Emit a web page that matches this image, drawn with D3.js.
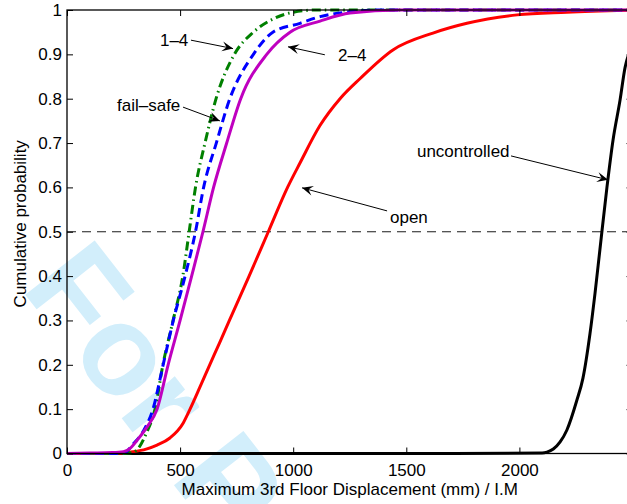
<!DOCTYPE html>
<html>
<head>
<meta charset="utf-8">
<script src="https://cdn.jsdelivr.net/npm/d3@7"></script>
<style>
body { margin: 0; background: #fff; }
svg { display: block; font-family: "Liberation Sans", Arial, Helvetica, sans-serif; }
</style>
</head>
<body>
<div id="chart"></div>
<script>
const width = 627, height = 504
const xTicks = [0, 500, 1000, 1500, 2000]
const yTicks = [0, 0.1, 0.2, 0.3, 0.4, 0.5, 0.6, 0.7, 0.8, 0.9, 1]

// [displacement, cumulative probability]
const uncontrolled = [[0, 0], [1700, 0], [2100, 0.001], [2122, 0.003], [2150, 0.01], [2180, 0.026], [2210, 0.053],
    [2254, 0.12], [2281, 0.17], [2312, 0.27], [2334, 0.36], [2356, 0.46], [2387, 0.6], [2414, 0.707],
    [2445, 0.797], [2467, 0.87], [2490, 0.91]]
const open = [[0, 0], [200, 0], [292, 0.004], [350, 0.01], [398, 0.019], [455, 0.035], [514, 0.069], [544, 0.1],
    [588, 0.15], [631, 0.2], [675, 0.25], [718, 0.3], [805, 0.4], [890, 0.5], [975, 0.6],
    [1030, 0.655], [1119, 0.74], [1207, 0.8], [1295, 0.845], [1441, 0.91], [1618, 0.948], [1768, 0.97],
    [1990, 0.989], [2210, 0.995], [2500, 1]]
const failSafe = [[0, 0], [230, 0], [260, 0.003], [290, 0.02], [337, 0.05], [380, 0.1], [425, 0.2], [470, 0.3],
    [522, 0.4], [568, 0.5], [604, 0.6], [660, 0.7], [720, 0.8], [824, 0.9], [910, 0.95], [1030, 0.97],
    [1119, 0.985], [1250, 0.996], [1400, 1], [2500, 1]]
const oneFour = [[0, 0], [250, 0], [290, 0.002], [320, 0.015], [350, 0.045], [389, 0.1], [424, 0.2], [469, 0.3],
    [512, 0.4], [540, 0.5], [568, 0.6], [610, 0.7], [659, 0.8], [740, 0.9], [824, 0.95], [912, 0.98],
    [1000, 0.995], [1100, 1], [2500, 1]]
const twoFour = [[0, 0], [100, 0.001], [200, 0.002], [250, 0.004], [280, 0.012], [310, 0.03], [354, 0.06],
    [398, 0.1], [447, 0.2], [500, 0.3], [551, 0.4], [601, 0.5], [648, 0.6], [706, 0.7], [768, 0.8],
    [883, 0.9], [986, 0.95], [1119, 0.975], [1251, 0.993], [1472, 1], [2500, 1]]

// label text, label anchor, arrow start, arrow tip (data units)
const notes = [
    { text: '1–4', at: [411, 0.919], from: [548, 0.932], to: [734, 0.913] },
    { text: '2–4', at: [1198, 0.885], from: [1140, 0.899], to: [977, 0.917] },
    { text: 'fail–safe', at: [221, 0.772], from: [513, 0.781], to: [676, 0.75] },
    { text: 'open', at: [1428, 0.52], from: [1415, 0.547], to: [1039, 0.599] },
    { text: 'uncontrolled', at: [1547, 0.669], from: [1963, 0.671], to: [2392, 0.617] }
]

const series = [
    { data: uncontrolled, color: '#000000', dash: null },
    { data: open, color: '#ff0000', dash: null },
    { data: oneFour, color: '#008000', dash: '9,4,1.5,4' },
    { data: failSafe, color: '#0000ff', dash: '9,5' },
    { data: twoFour, color: '#bf00bf', dash: null }
]

const margin = { left: 67, top: 10, right: 632.5, bottom: 453.5 }

const x = d3.scaleLinear().domain([0, 2500]).range([margin.left, margin.right])
const y = d3.scaleLinear().domain([0, 1]).range([margin.bottom, margin.top])

const svg = d3.select('#chart')
    .append('svg')
    .attr('width', width)
    .attr('height', height)

// watermark
svg.append('text')
    .attr('transform', 'translate(20,288) rotate(52)')
    .attr('font-size', 128)
    .attr('font-weight', 'bold')
    .attr('fill', '#d2eefb')
    .text('For P')

svg.append('line')
    .attr('x1', x(0)).attr('x2', x(2500))
    .attr('y1', y(0.5)).attr('y2', y(0.5))
    .attr('stroke', '#000')
    .attr('stroke-width', 0.9)
    .attr('stroke-dasharray', '9,6')

const line = d3.line()
    .x(d => x(d[0]))
    .y(d => y(d[1]))
    .curve(d3.curveMonotoneX)

svg.selectAll('path.series')
    .data(series)
    .join('path')
    .attr('class', 'series')
    .attr('fill', 'none')
    .attr('stroke', d => d.color)
    .attr('stroke-width', 3)
    .attr('stroke-dasharray', d => d.dash)
    .attr('d', d => line(d.data))

const styleAxis = g => {
    g.select('.domain').remove()
    g.attr('font-size', 17).attr('font-family', null)
    g.selectAll('line').attr('stroke', '#000').attr('stroke-width', 1)
    g.selectAll('text').attr('fill', '#000')
}

svg.append('g')
    .attr('transform', `translate(0,${y(0)})`)
    .call(d3.axisBottom(x).tickValues(xTicks).tickSize(-6).tickPadding(10).tickFormat(d3.format('d')))
    .call(styleAxis)

svg.append('g')
    .attr('transform', `translate(0,${y(1)})`)
    .call(d3.axisTop(x).tickValues(xTicks).tickSize(-6).tickFormat(''))
    .call(styleAxis)

svg.append('g')
    .attr('transform', `translate(${x(0)},0)`)
    .call(d3.axisLeft(y).tickValues(yTicks).tickSize(-6).tickPadding(5).tickFormat(d => String(d)))
    .call(styleAxis)

svg.append('g')
    .attr('transform', `translate(${x(2500)},0)`)
    .call(d3.axisRight(y).tickValues(yTicks).tickSize(-6).tickFormat(''))
    .call(styleAxis)

svg.append('rect')
    .attr('x', x(0)).attr('y', y(1))
    .attr('width', x(2500) - x(0)).attr('height', y(0) - y(1))
    .attr('fill', 'none')
    .attr('stroke', '#000')
    .attr('stroke-width', 1.3)

// annotations
const arrowHead = (x1, y1, x2, y2) => {
    const a = Math.atan2(y2 - y1, x2 - x1)
    const L = 11, W = 5
    const dx = Math.cos(a), dy = Math.sin(a)
    const p1 = [x2 - L * dx - W * dy, y2 - L * dy + W * dx]
    const p2 = [x2 - 0.6 * L * dx, y2 - 0.6 * L * dy]
    const p3 = [x2 - L * dx + W * dy, y2 - L * dy - W * dx]
    return `M${x2},${y2}L${p1}L${p2}L${p3}Z`
}

const ann = svg.selectAll('g.note')
    .data(notes)
    .join('g')
    .attr('class', 'note')

ann.append('line')
    .attr('x1', d => x(d.from[0])).attr('y1', d => y(d.from[1]))
    .attr('x2', d => x(d.to[0])).attr('y2', d => y(d.to[1]))
    .attr('stroke', '#000')
    .attr('stroke-width', 1)

ann.append('path')
    .attr('d', d => arrowHead(x(d.from[0]), y(d.from[1]), x(d.to[0]), y(d.to[1])))
    .attr('fill', '#000')

ann.append('text')
    .attr('x', d => x(d.at[0]))
    .attr('y', d => y(d.at[1]))
    .attr('font-size', 17)
    .text(d => d.text)

svg.append('text')
    .attr('x', (x(0) + x(2500)) / 2)
    .attr('y', 495)
    .attr('text-anchor', 'middle')
    .attr('font-size', 17)
    .text('Maximum 3rd Floor Displacement (mm) / I.M')

svg.append('text')
    .attr('transform', `translate(26,${y(0.5) - 8}) rotate(-90)`)
    .attr('text-anchor', 'middle')
    .attr('font-size', 17)
    .text('Cumulative probability')
</script>
</body>
</html>
